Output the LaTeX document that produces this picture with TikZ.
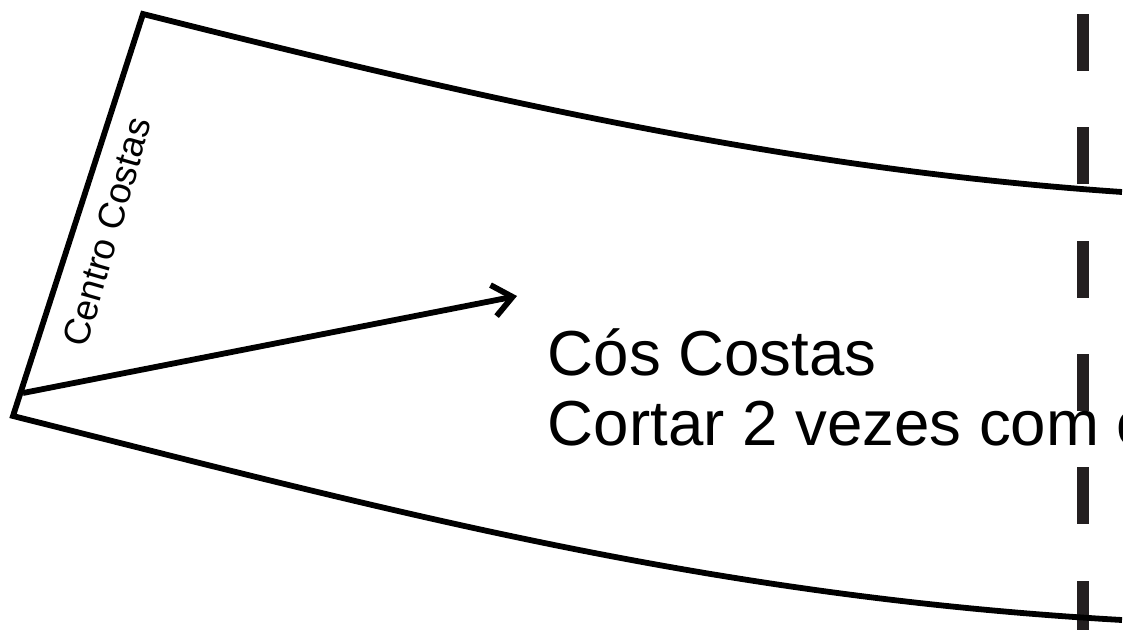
\documentclass[tikz,border=0pt]{standalone}
\usepackage{fontspec}
\setmainfont{Liberation Sans}
\usetikzlibrary{
    arrows.meta,
    positioning
}
\definecolor{dashgray}{HTML}{231F20}
\tikzset{edgeline/.style={line width=3.3pt, black}}
\tikzset{foldbar/.style={inner sep=0pt, minimum width=6.8pt, minimum height=32.3pt, fill=dashgray}}
\tikzset{bigtext/.style={inner sep=0pt, anchor=base west, font=\fontsize{36.2}{36.2}\selectfont}}

\begin{document}
\begin{tikzpicture}[x=0.02cm, y=-0.02cm]
    \useasboundingbox (0, 0) rectangle (1136, 629);

    % fold line
    \foreach \n/\y in {a/42.5, b/155.5, c/269.5, d/382.5, e/495.5, f/609.5} {
        \node[foldbar] (fold\n) at (1083, \y) {};
    }

    \coordinate (topleft) at (143, 14);
    \coordinate (botleft) at (13, 416);
    \coordinate (topright) at (1122, 192);
    \coordinate (botright) at (1122, 620);
    \coordinate (arrowstart) at (23, 393);
    \coordinate (arrowend) at (517, 296);

    \draw[edgeline, line join=miter]
    (topright) .. controls (800, 170) and (500, 104) .. (topleft)
    -- (botleft)
    .. controls (380, 508) and (700, 596) .. (botright);

    \draw[edgeline, -{Straight Barb[length=11pt, width=18pt]}] (arrowstart) -- (arrowend);

    \node[inner sep=0pt, rotate=74, font=\fontsize{21}{21}\selectfont] (backlabel) at (107, 232) {Centro Costas};

    \begin{scope}
        \clip (0, 0) rectangle (1122, 629);
        \node[bigtext] (title) at (547.5, 375) {Cós Costas};
        \node[bigtext] (cutnote) at (547.5, 445) {Cortar 2 vezes com o};
    \end{scope}
\end{tikzpicture}
\end{document}
